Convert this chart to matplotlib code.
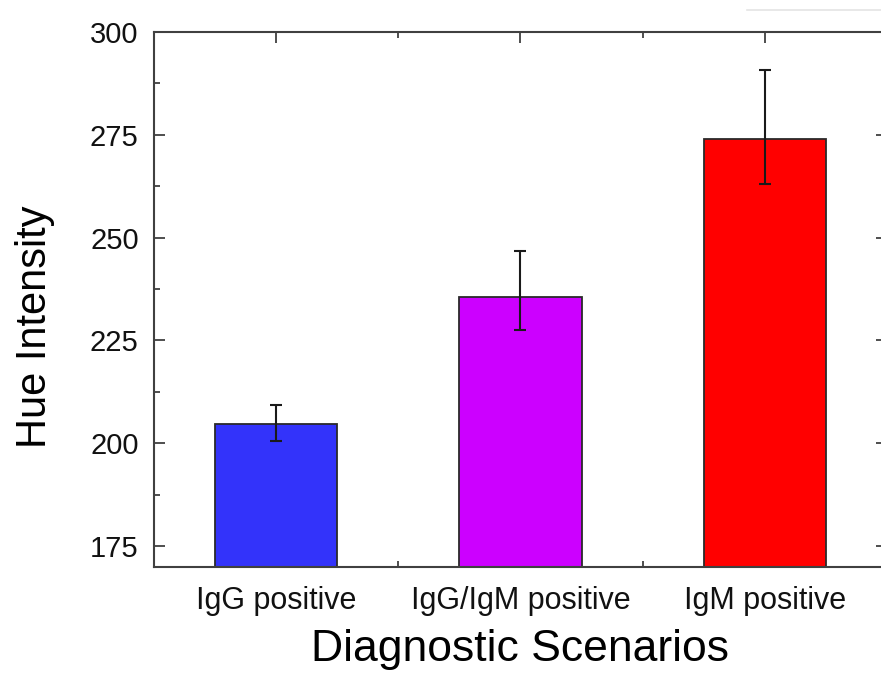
import numpy as np
import matplotlib
matplotlib.use("Agg")
import matplotlib.pyplot as plt
from matplotlib.ticker import MultipleLocator
from matplotlib.lines import Line2D

# ── data ──────────────────────────────────────────────
categories = ["IgG positive", "IgG/IgM positive", "IgM positive"]
hue_mean   = [204.7, 235.6, 273.9]
err_low    = [4.1, 8.0, 11.0]
err_high   = [4.7, 11.2, 16.8]
bar_colors = ["#3333FA", "#CC00FF", "#FF0000"]

plt.rcParams["font.family"] = ["Liberation Sans", "DejaVu Sans"]

fig = plt.figure(figsize=(8.81, 6.73), dpi=100)
ax = fig.add_axes([0.1748, 0.1575, 0.8320, 0.7955])

x = np.arange(1, len(categories) + 1)
ax.bar(x, hue_mean, width=0.5, color=bar_colors,
       edgecolor="#2a2a2a", linewidth=1.3, zorder=2)
ax.errorbar(x, hue_mean, yerr=[err_low, err_high], fmt="none",
            ecolor="#1a1a1a", elinewidth=1.5, capsize=4, capthick=1.5,
            zorder=3)

ax.set_xlim(0.5, 3.5)
ax.set_ylim(170, 300)
ax.set_xticks(x)
ax.set_xticklabels(categories)
ax.xaxis.set_minor_locator(MultipleLocator(0.5))
ax.yaxis.set_major_locator(MultipleLocator(25))
ax.yaxis.set_minor_locator(MultipleLocator(12.5))
ax.set_yticks([175, 200, 225, 250, 275, 300])

ax.tick_params(which="both", direction="in", top=True, right=True,
               color="#404040", width=1.3)
ax.tick_params(which="major", length=8, labelsize=21, pad=11, labelcolor="#111111")
ax.tick_params(which="minor", length=4)
ax.tick_params(axis="x", which="major", labelsize=22, pad=14)
for s in ax.spines.values():
    s.set_color("#404040")
    s.set_linewidth(1.5)
ax.spines["right"].set_visible(False)  # lies past the image edge anyway

ax.set_ylabel("Hue Intensity", fontsize=30)
ax.yaxis.set_label_coords(-0.135, 0.448)
ax.set_xlabel("Diagnostic Scenarios", fontsize=32, labelpad=9)

# faint box edge at top right of the original image
fig.add_artist(Line2D([747 / 881, 1.0], [1 - 10 / 673] * 2,
                      transform=fig.transFigure, color="#e4e4e4", lw=1.2))

fig.savefig("out.png", dpi=100)
